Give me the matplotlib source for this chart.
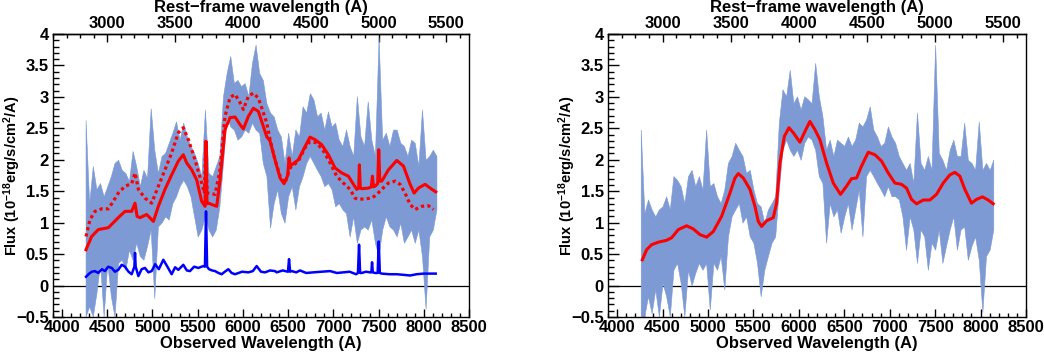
import matplotlib
matplotlib.use("Agg")
import matplotlib.pyplot as plt
from matplotlib.ticker import MultipleLocator, FuncFormatter
import numpy as np

plt.rcParams['font.family'] = ['Liberation Sans', 'DejaVu Sans']
plt.rcParams['font.weight'] = 'bold'
plt.rcParams['axes.labelweight'] = 'bold'
plt.rcParams['mathtext.fontset'] = 'custom'
plt.rcParams['mathtext.rm'] = 'Liberation Sans:bold'
plt.rcParams['mathtext.it'] = 'Liberation Sans:bold'
plt.rcParams['mathtext.bf'] = 'Liberation Sans:bold'

redshift = 0.5

# observed spectrum band (upper / lower envelope), 40 A grid
band_wave = np.arange(4260, 8141, 40)

left_hi = [2.63, 1.31, 1.90, 1.53, 1.63, 1.42, 1.58, 1.74, 1.95, 2.00,
           1.84, 1.79, 1.66, 2.14, 1.90, 1.58, 1.84, 1.71, 2.82, 2.16,
           1.79, 2.06, 2.11, 2.27, 2.43, 2.61, 2.32, 2.59, 2.37, 2.22,
           2.11, 1.95, 1.74, 2.80, 1.79, 1.74, 1.90, 2.06, 3.01, 3.38,
           3.65, 3.22, 3.27, 3.17, 3.22, 3.01, 3.54, 3.83, 3.38, 3.27,
           2.90, 2.75, 2.69, 2.48, 2.37, 1.95, 2.43, 2.06, 2.48, 2.37,
           2.85, 2.75, 3.06, 2.96, 2.69, 2.75, 2.48, 2.77, 2.53, 2.59,
           2.32, 2.22, 2.48, 2.22, 2.06, 3.01, 2.37, 2.22, 2.93, 2.32,
           2.06, 3.95, 2.32, 2.43, 2.22, 2.48, 2.48, 2.27, 2.22, 2.06,
           2.32, 2.27, 1.90, 2.80, 2.00, 2.06, 2.16, 2.06]
left_lo = [-0.49, -0.33, -0.49, -0.12, 0.36, -0.49, 0.36, -0.17, -0.49, 0.36,
           0.41, 0.25, 0.57, 0.41, 0.68, 0.47, 0.41, 0.63, 0.89, -0.20,
           0.94, 1.00, 1.10, 1.05, 1.31, 1.42, 1.58, 1.68, 1.58, 1.42,
           1.10, 0.78, 0.89, 1.10, 0.89, 0.78, 0.89, 1.26, 1.95, 2.69,
           2.53, 2.48, 2.32, 2.37, 2.48, 2.43, 2.59, 2.48, 2.43, 1.95,
           1.74, 0.92, 1.31, 1.53, 1.15, 1.00, 1.42, 1.58, 1.21, 1.58,
           1.74, 1.95, 2.06, 1.95, 1.84, 1.74, 1.58, 1.63, 1.53, 1.26,
           1.31, 1.21, 1.15, 0.78, 1.10, 0.68, 0.89, 0.94, 0.89, 1.05,
           0.68, 0.47, 0.89, 1.10, 0.94, 0.89, 0.78, 1.00, 0.68, 0.78,
           0.89, 0.68, 0.89, 0.47, -0.37, 0.78, 0.89, 1.21]

right_hi = [2.48, 1.15, 1.37, 1.21, 1.10, 1.21, 1.26, 1.42, 1.21, 1.74,
            1.68, 1.58, 1.31, 1.74, 1.84, 1.58, 1.74, 1.53, 2.48, 1.58,
            1.63, 1.42, 1.31, 1.53, 1.95, 2.06, 2.27, 2.16, 2.06, 1.79,
            1.84, 1.53, 1.31, 1.26, 1.00, 1.21, 1.31, 1.42, 2.59, 3.12,
            3.01, 3.43, 2.90, 3.01, 2.80, 3.01, 2.96, 2.90, 3.54, 3.01,
            2.69, 2.16, 2.32, 2.06, 2.32, 2.27, 2.22, 2.37, 2.22, 2.32,
            2.59, 2.53, 2.64, 2.85, 2.48, 2.37, 2.22, 2.27, 2.53, 2.37,
            2.27, 2.06, 1.95, 1.84, 1.95, 1.63, 2.75, 1.95, 1.84, 2.06,
            1.84, 3.83, 2.11, 2.00, 1.84, 2.16, 2.32, 2.06, 2.06, 2.59,
            2.00, 1.95, 1.84, 2.61, 1.84, 1.95, 1.84, 2.00]
right_lo = [-0.49, -0.49, -0.17, -0.44, -0.06, -0.49, 0.04, -0.17, -0.49, 0.25,
            0.36, 0.04, -0.49, 0.25, 0.00, 0.20, 0.36, 0.25, 0.36, -0.38,
            0.36, 0.25, 0.47, -0.06, 0.78, 1.10, 1.21, 1.31, 1.00, 1.10,
            0.78, 0.68, 0.36, -0.17, 0.25, 0.47, 0.68, 0.78, 1.53, 2.16,
            2.32, 2.16, 2.06, 2.16, 2.00, 2.27, 2.37, 2.32, 2.16, 1.74,
            1.63, 0.68, 1.31, 1.10, 1.21, 0.84, 1.10, 1.31, 0.89, 1.21,
            1.53, 0.78, 1.74, 1.84, 1.74, 1.63, 1.53, 1.42, 1.58, 1.42,
            1.42, 1.37, 1.10, 0.57, 1.10, 0.89, 0.36, 0.89, 0.78, 0.25,
            0.68, 0.57, 0.89, 0.36, 0.63, 0.89, 1.10, 0.57, 0.89, 0.94,
            0.41, 0.63, 0.78, 0.41, -0.42, 0.47, 0.57, 0.89]

# left panel: model (solid), model (dotted), host/sky (blue)
model_wave = [4265, 4327, 4401, 4512, 4567, 4622, 4696, 4770, 4807, 4830,
              4862, 4936, 5010, 5065, 5138, 5212, 5286, 5341, 5378, 5434,
              5489, 5544, 5581, 5592, 5603, 5618, 5710, 5747, 5802, 5857,
              5913, 5968, 6005, 6060, 6116, 6171, 6263, 6300, 6355, 6411,
              6455, 6495, 6510, 6525, 6540, 6613, 6687, 6742, 6798, 6871,
              6945, 7019, 7093, 7166, 7222, 7259, 7280, 7288, 7298, 7314,
              7388, 7420, 7432, 7444, 7461, 7490, 7502, 7514, 7535, 7609,
              7701, 7775, 7849, 7893, 7941, 8014, 8070, 8132]
model_flux = [0.57, 0.78, 0.89, 0.92, 1.00, 1.08, 1.18, 1.18, 1.31, 1.10,
              1.08, 1.13, 1.02, 1.26, 1.53, 1.76, 1.98, 2.08, 1.95, 1.84,
              1.68, 1.34, 1.26, 2.29, 1.30, 1.31, 1.26, 1.68, 2.48, 2.67,
              2.68, 2.56, 2.49, 2.69, 2.82, 2.77, 2.37, 2.30, 2.00, 1.71,
              1.62, 1.75, 2.03, 1.90, 1.92, 2.00, 2.21, 2.36, 2.32, 2.24,
              2.08, 1.87, 1.79, 1.74, 1.61, 1.53, 1.55, 1.92, 1.55, 1.54,
              1.55, 1.57, 1.74, 1.57, 1.58, 1.62, 2.16, 1.66, 1.66, 1.84,
              1.99, 1.90, 1.61, 1.47, 1.55, 1.61, 1.55, 1.49]

alt_wave = [4265, 4309, 4364, 4438, 4512, 4567, 4622, 4696, 4770, 4807,
            4844, 4917, 4991, 5065, 5138, 5212, 5286, 5341, 5397, 5470,
            5544, 5574, 5589, 5604, 5618, 5692, 5747, 5802, 5857, 5913,
            5968, 6005, 6060, 6116, 6171, 6263, 6300, 6355, 6411, 6466,
            6521, 6613, 6687, 6742, 6816, 6890, 6964, 7037, 7111, 7185,
            7240, 7277, 7351, 7425, 7480, 7535, 7609, 7683, 7738, 7793,
            7849, 7904, 7978, 8051, 8107]
alt_flux = [0.78, 1.05, 1.18, 1.22, 1.22, 1.34, 1.47, 1.58, 1.62, 1.79,
            1.53, 1.39, 1.31, 1.58, 1.84, 2.11, 2.43, 2.51, 2.32, 2.00,
            1.63, 1.47, 2.29, 1.47, 1.47, 1.45, 1.84, 2.69, 2.99, 3.04,
            2.91, 2.80, 3.01, 3.06, 2.98, 2.59, 2.32, 2.00, 1.74, 1.63,
            1.87, 1.98, 2.19, 2.29, 2.27, 2.14, 1.95, 1.74, 1.63, 1.53,
            1.39, 1.37, 1.38, 1.39, 1.45, 1.53, 1.63, 1.66, 1.61, 1.47,
            1.29, 1.21, 1.26, 1.27, 1.21]

host_wave = [4265, 4300, 4330, 4364, 4400, 4440, 4475, 4510, 4549, 4585,
             4622, 4660, 4696, 4735, 4770, 4800, 4807, 4814, 4844, 4880,
             4917, 4955, 4991, 5030, 5070, 5120, 5165, 5212, 5250, 5286,
             5341, 5380, 5415, 5460, 5507, 5562, 5580, 5592, 5604, 5625,
             5660, 5692, 5730, 5765, 5800, 5839, 5875, 5913, 5990, 6060,
             6110, 6152, 6200, 6245, 6300, 6355, 6374, 6440, 6498, 6510,
             6522, 6540, 6590, 6632, 6700, 6779, 6870, 6964, 7040, 7111,
             7180, 7251, 7272, 7284, 7296, 7314, 7360, 7406, 7420, 7428,
             7436, 7461, 7490, 7502, 7514, 7535, 7620, 7701, 7780, 7849,
             7920, 7996, 8060, 8132]
host_flux = [0.14, 0.19, 0.22, 0.23, 0.20, 0.26, 0.23, 0.30, 0.28, 0.22,
             0.25, 0.33, 0.30, 0.22, 0.18, 0.30, 0.52, 0.30, 0.15, 0.26,
             0.28, 0.21, 0.23, 0.34, 0.26, 0.41, 0.30, 0.18, 0.29, 0.25,
             0.33, 0.24, 0.23, 0.30, 0.28, 0.31, 0.30, 1.18, 0.30, 0.26,
             0.24, 0.23, 0.20, 0.18, 0.22, 0.26, 0.20, 0.18, 0.22, 0.21,
             0.23, 0.31, 0.22, 0.21, 0.24, 0.23, 0.21, 0.24, 0.22, 0.42,
             0.22, 0.23, 0.21, 0.24, 0.20, 0.21, 0.22, 0.23, 0.20, 0.21,
             0.22, 0.18, 0.20, 0.65, 0.20, 0.20, 0.22, 0.21, 0.21, 0.37,
             0.21, 0.20, 0.20, 0.70, 0.20, 0.19, 0.18, 0.18, 0.17, 0.16,
             0.18, 0.19, 0.19, 0.19]

# right panel model
fit_wave = [4278, 4325, 4380, 4454, 4545, 4600, 4674, 4765, 4839, 4912,
            4985, 5059, 5150, 5242, 5297, 5334, 5389, 5462, 5517, 5554,
            5590, 5645, 5719, 5755, 5792, 5840, 5891, 5939, 6012, 6067,
            6122, 6177, 6232, 6305, 6379, 6459, 6525, 6580, 6635, 6690,
            6764, 6837, 6910, 6984, 7057, 7130, 7185, 7240, 7295, 7369,
            7442, 7515, 7589, 7662, 7717, 7772, 7827, 7900, 7955, 8021,
            8084, 8139]
fit_flux = [0.41, 0.57, 0.65, 0.69, 0.72, 0.76, 0.89, 0.95, 0.90, 0.81,
            0.77, 0.86, 1.10, 1.47, 1.71, 1.78, 1.71, 1.53, 1.26, 1.02,
            0.94, 1.03, 1.08, 1.31, 1.95, 2.37, 2.51, 2.43, 2.28, 2.45,
            2.61, 2.48, 2.32, 1.95, 1.63, 1.45, 1.58, 1.70, 1.71, 1.90,
            2.12, 2.08, 1.98, 1.79, 1.63, 1.61, 1.55, 1.37, 1.30, 1.36,
            1.36, 1.45, 1.63, 1.76, 1.80, 1.74, 1.53, 1.31, 1.37, 1.41,
            1.36, 1.30]

band_color = '#7d9ad4'


def style_panel(ax):
    ax.set_xlim(3900, 8500)
    ax.set_ylim(-0.5, 4)
    ax.axhline(0, color='black', lw=0.9, zorder=1)
    ax.xaxis.set_major_locator(MultipleLocator(500))
    ax.xaxis.set_minor_locator(MultipleLocator(100))
    ax.yaxis.set_major_locator(MultipleLocator(0.5))
    ax.yaxis.set_minor_locator(MultipleLocator(0.1))
    ax.yaxis.set_major_formatter(FuncFormatter(lambda v, p: ('%g' % v).replace('-', '\u2212')))
    ax.tick_params(axis='x', which='major', direction='in', length=6, width=1,
                   labelsize=12, pad=2, top=False)
    ax.tick_params(axis='x', which='minor', direction='in', length=3, width=1, top=False)
    ax.tick_params(axis='y', which='major', direction='in', length=8, width=1,
                   labelsize=12, pad=3, right=False)
    ax.tick_params(axis='y', which='minor', direction='in', length=4, width=1, right=False)
    for s in ax.spines.values():
        s.set_linewidth(1.0)
    ax.set_xlabel('Observed Wavelength (A)', fontsize=12, fontweight='bold', labelpad=1)
    ax.set_ylabel('Flux (10$^{-18}$erg/s/cm$^{2}$/A)', fontsize=10.5, fontweight='bold')
    ax.yaxis.set_label_coords(-0.071, 0.5)

    sec = ax.secondary_xaxis('top', functions=(lambda x: x / (1 + redshift),
                                               lambda x: x * (1 + redshift)))
    sec.set_xticks([3000, 3500, 4000, 4500, 5000, 5500])
    sec.xaxis.set_minor_locator(MultipleLocator(100))
    sec.tick_params(axis='x', which='major', direction='in', length=6, width=1,
                    labelsize=12, pad=2)
    sec.tick_params(axis='x', which='minor', direction='in', length=3, width=1)
    sec.spines['top'].set_linewidth(1.0)
    sec.set_xlabel('Rest\u2212frame wavelength (A)', fontsize=12, fontweight='bold', labelpad=3)

    plt.setp(ax.get_xticklabels() + ax.get_yticklabels() + sec.get_xticklabels(),
             fontweight='bold')


fig = plt.figure(figsize=(10.44, 3.54), dpi=100)

ax1 = fig.add_axes([53 / 1044, 1 - 317 / 354, 416 / 1044, 283 / 354])
ax1.fill_between(band_wave, left_lo, left_hi, color=band_color, lw=0.4, zorder=2)
ax1.plot(alt_wave, alt_flux, color='red', lw=2.3, ls=(0, (1, 1)), zorder=3)
ax1.plot(model_wave, model_flux, color='red', lw=2.2, zorder=4)
ax1.plot(host_wave, host_flux, color='blue', lw=1.8, zorder=5)
style_panel(ax1)

ax2 = fig.add_axes([608 / 1044, 1 - 317 / 354, 418 / 1044, 283 / 354])
ax2.fill_between(band_wave, right_lo, right_hi, color=band_color, lw=0.4, zorder=2)
ax2.plot(fit_wave, fit_flux, color='red', lw=2.2, zorder=4)
style_panel(ax2)

fig.savefig('out.png', dpi=100)
